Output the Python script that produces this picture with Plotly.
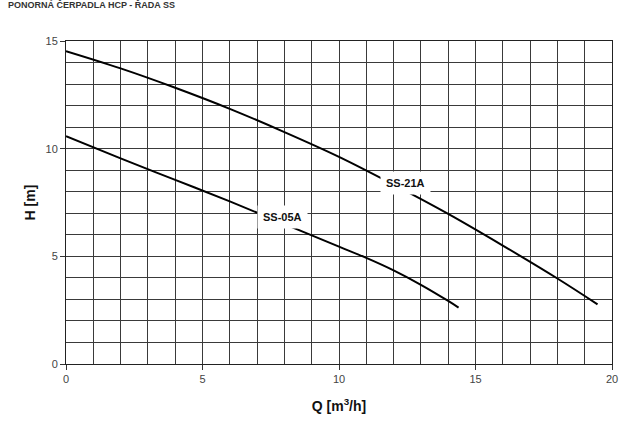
import plotly.graph_objects as go

# Data
q_ss21a = [0, 2, 4, 6, 8, 10, 12, 14, 16, 18, 19.47]
h_ss21a = [14.53, 13.73, 12.83, 11.85, 10.77, 9.62, 8.33, 6.97, 5.50, 3.97, 2.77]

q_ss05a = [0, 2, 4, 6, 8, 10, 11, 12, 13, 14, 14.38]
h_ss05a = [10.58, 9.55, 8.55, 7.55, 6.5, 5.45, 4.93, 4.35, 3.68, 2.93, 2.62]

labels = ["SS-21A", "SS-05A"]
label_pos_q = [12.44, 7.92]
label_pos_h = [8.41, 6.83]

title_text = "PONORNÁ ČERPADLA HCP - ŘADA SS"
x_title = "Q [m<sup>3</sup>/h]"
y_title = "H [m]"

FONT = "Liberation Sans, Arial, sans-serif"

fig = go.Figure()
for qs, hs in [(q_ss21a, h_ss21a), (q_ss05a, h_ss05a)]:
    fig.add_trace(go.Scatter(x=qs, y=hs, mode="lines",
                             line=dict(color="black", width=2, shape="spline", smoothing=1.0),
                             hoverinfo="skip", showlegend=False))

for lab, qx, hy in zip(labels, label_pos_q, label_pos_h):
    fig.add_annotation(x=qx, y=hy, text="<b>%s</b>" % lab, showarrow=False,
                       font=dict(family=FONT, size=11, color="#111"),
                       bgcolor="white", borderpad=5)

axis_common = dict(
    showline=True, linecolor="#222", linewidth=1, mirror=True,
    showgrid=True, gridcolor="#3a3a3a", gridwidth=1,
    zeroline=False,
    ticks="outside", ticklen=5, tickcolor="#333",
    tickfont=dict(family=FONT, size=11, color="#444"),
)

fig.update_xaxes(range=[0, 20], dtick=5, tick0=0,
                 minor=dict(dtick=1, showgrid=True, gridcolor="#3a3a3a", gridwidth=1, ticks=""),
                 title=dict(text="<b>%s</b>" % x_title, font=dict(family=FONT, size=14, color="#111"), standoff=16),
                 **axis_common)
fig.update_yaxes(range=[0, 15], dtick=5, tick0=0,
                 minor=dict(dtick=1, showgrid=True, gridcolor="#3a3a3a", gridwidth=1, ticks=""),
                 title=dict(text="<b>%s</b>" % y_title, font=dict(family=FONT, size=14, color="#111"), standoff=6),
                 **axis_common)

fig.update_layout(width=640, height=433,
                  margin=dict(l=66, r=28, t=41, b=69),
                  title=dict(text="<b>%s</b>" % title_text, xref="container", yref="container",
                             x=8 / 640, xanchor="left", y=1 - 2 / 433, yanchor="top",
                             pad=dict(t=0, b=0, l=0, r=0),
                             font=dict(family=FONT, size=9, color="#333")),
                  plot_bgcolor="white", paper_bgcolor="white",
                  font=dict(family=FONT))

fig.write_html("out.html", config={"displayModeBar": False},
               post_script="document.body.style.margin='0';")
